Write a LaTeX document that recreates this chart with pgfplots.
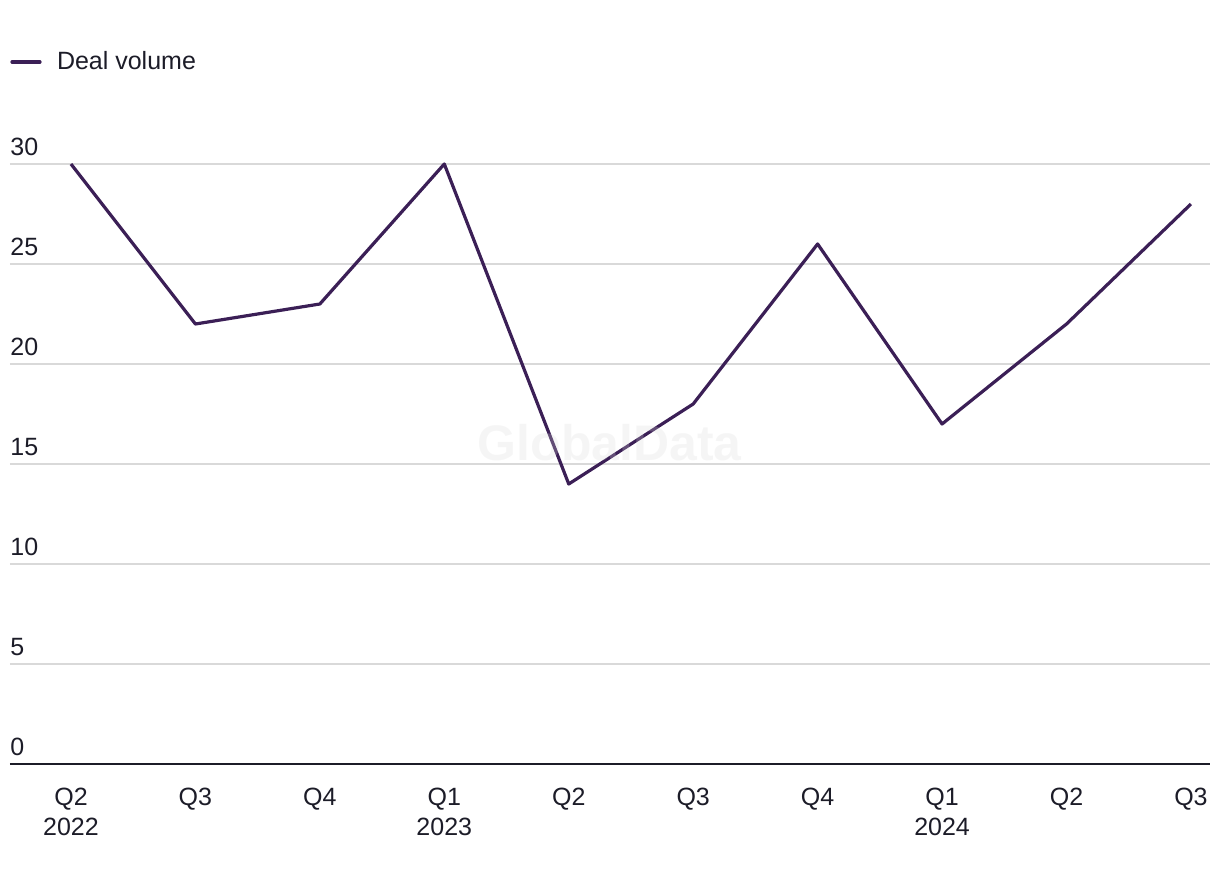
\documentclass[border=0pt]{standalone}
\usepackage{pgfplots}
\pgfplotsset{compat=1.18}
\usepackage{fontspec}
\setmainfont{Liberation Sans}
\definecolor{linec}{HTML}{3B1F56}
\definecolor{gridc}{HTML}{D9D9D9}
\definecolor{txtc}{HTML}{1C1C28}
\begin{document}
\begin{tikzpicture}[x=1pt,y=1pt]
\begin{axis}[
  at={(0pt,0pt)}, anchor=south west,
  scale only axis, width=600pt, height=300pt,
  xmin=-0.49, xmax=9.153, ymin=0, ymax=30,
  clip=false,
  /pgf/number format/assume math mode=true,
  axis line style={draw=none},
  axis x line*=bottom,
  x axis line style={draw=txtc, line width=1pt},
  ytick={0,5,...,30},
  ymajorgrids, grid style={gridc, line width=0.7pt},
  major tick length=0pt,
  xtick={0,...,9},
  xticklabels={{Q2\\2022},Q3,Q4,{Q1\\2023},Q2,Q3,Q4,{Q1\\2024},Q2,Q3},
  xticklabel style={align=center, anchor=north, yshift=-8.5pt, font=\fontsize{12.5}{15}\selectfont, text=txtc},
  yticklabel style={anchor=south west, inner sep=0pt, xshift=0pt, yshift=4pt, font=\fontsize{12.5}{15}\selectfont, text=txtc},
  every axis plot/.append style={line join=round},
  legend style={at={([yshift=51pt]axis description cs:0,1)}, anchor=west, draw=none, inner sep=0pt, font=\fontsize{12.5}{15}\selectfont, text=txtc},
  legend image code/.code={\path[draw=none] (0pt,0pt) -- (20.5pt,0pt); \draw[#1, line width=1.6pt, line cap=round] (0pt,0pt) -- (14pt,0pt);},
  legend cell align=left,
]
\addplot[linec, line width=1.6pt] coordinates {
 (0,30) (1,22) (2,23) (3,30) (4,14) (5,18) (6,26) (7,17) (8,22) (9,28)
};
\addlegendentry{Deal volume}
\node[text=gridc, opacity=0.25, font=\fontsize{25}{25}\selectfont\bfseries] at (axis cs:4.33,16.05) {GlobalData};
\end{axis}
\path[use as bounding box] (-5pt,-60pt) rectangle (605pt,382pt);
\end{tikzpicture}
\end{document}
